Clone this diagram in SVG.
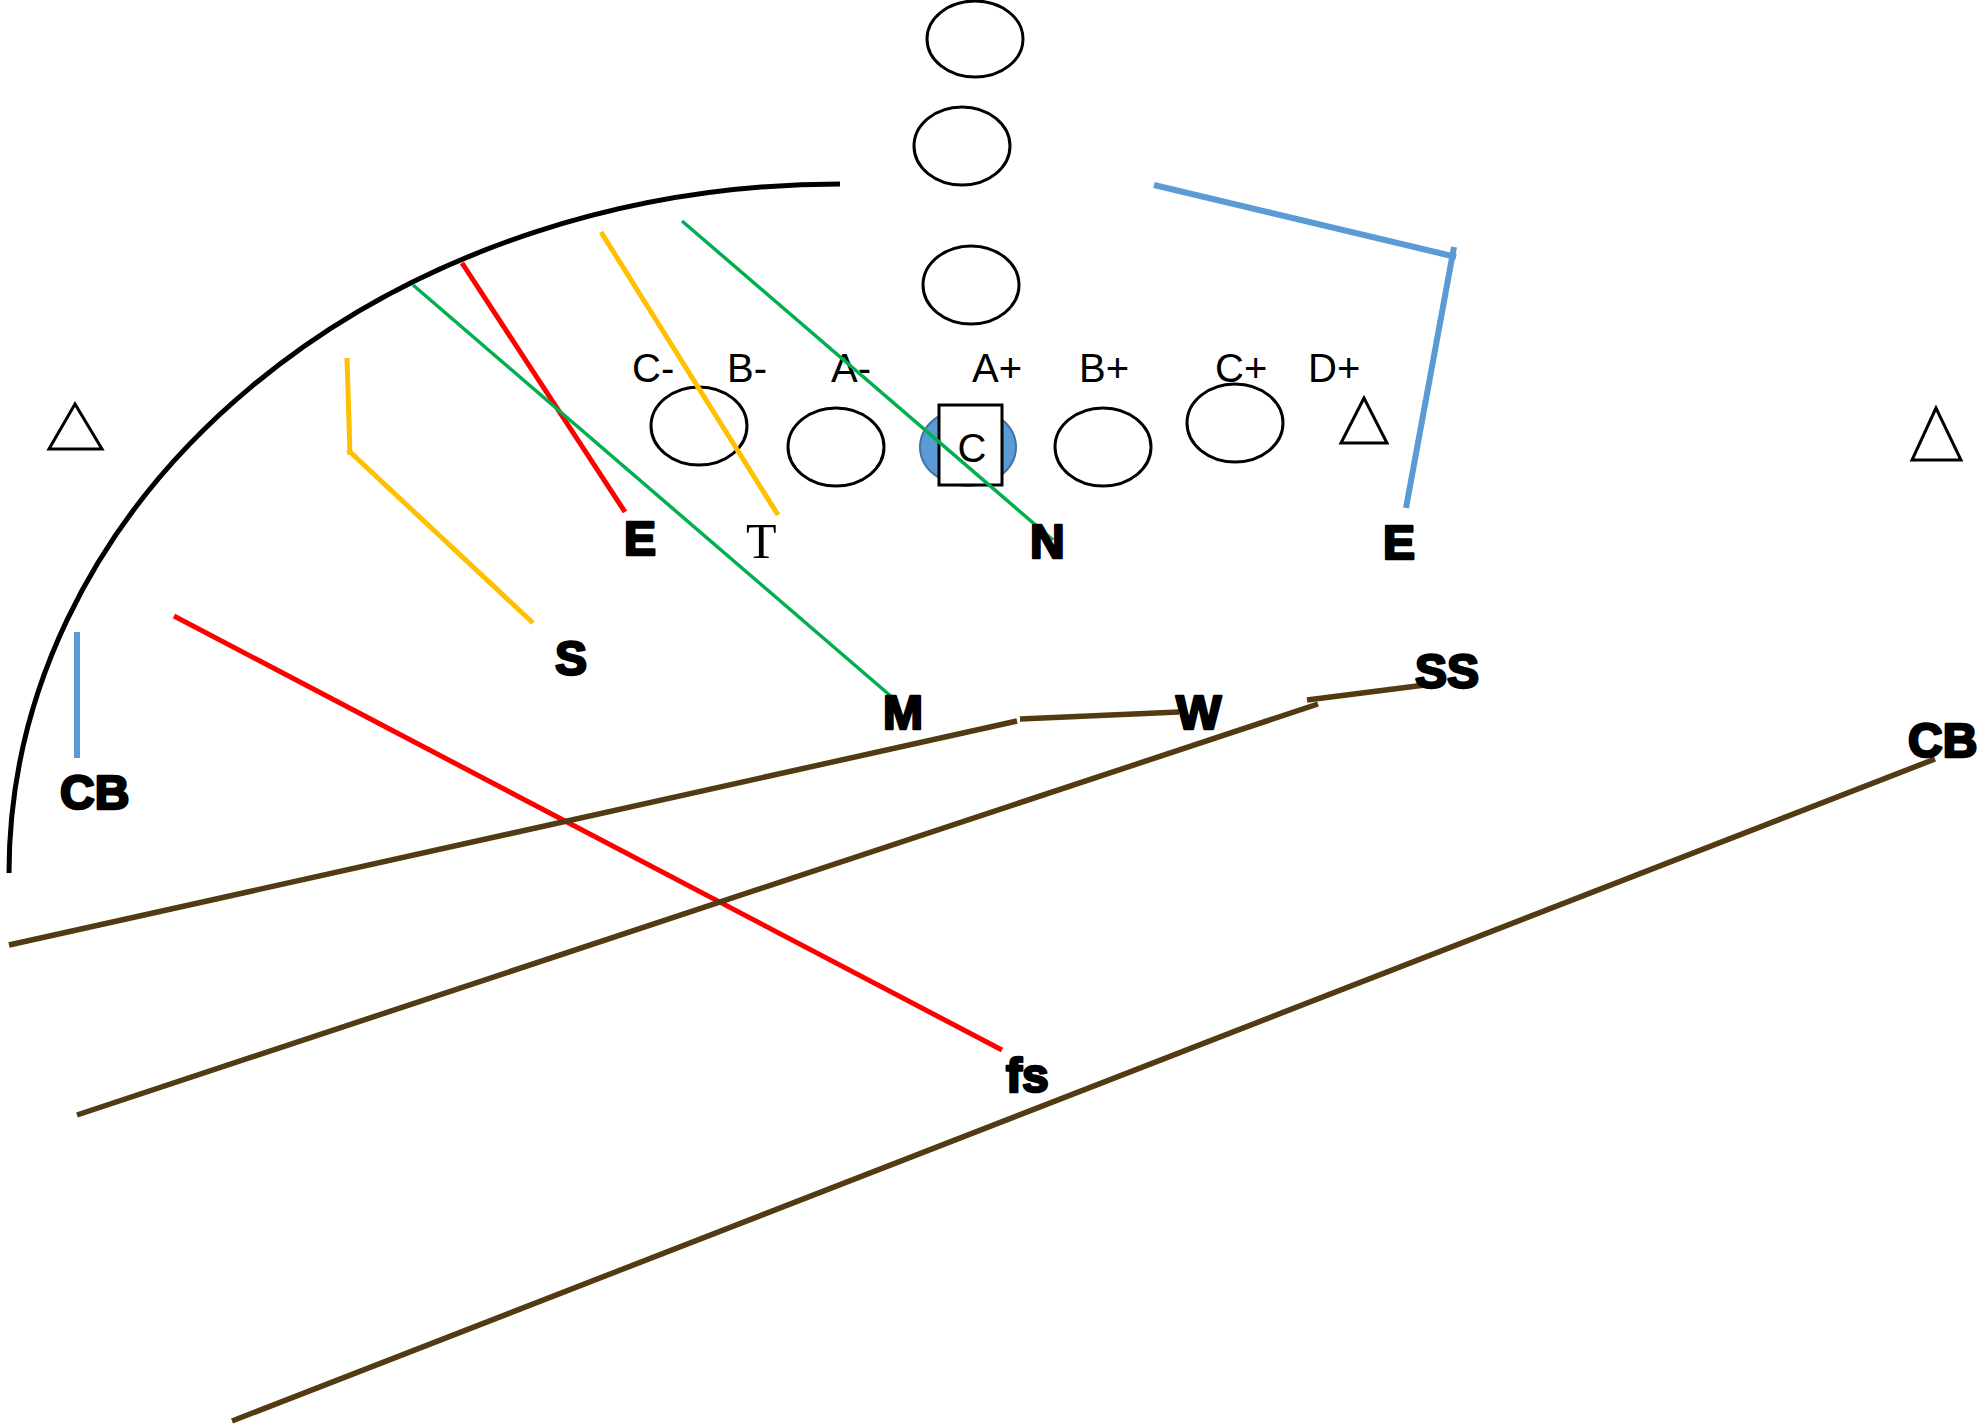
<svg xmlns="http://www.w3.org/2000/svg" width="1986" height="1428" viewBox="0 0 1986 1428">
<style>
.ov{fill:#fff;stroke:#000;stroke-width:3}
.tri{fill:#fff;stroke:#000;stroke-width:3}
.gap{font-family:"Liberation Sans",Arial,sans-serif;font-size:40px;fill:#000}
.pl{font-family:"Liberation Sans",Arial,sans-serif;font-weight:bold;font-size:48px;fill:#000;stroke:#000;stroke-width:2.6;stroke-linejoin:round}
.red{stroke:#FF0000;stroke-width:5;fill:none}
.grn{stroke:#00B050;stroke-width:3.5;fill:none}
.org{stroke:#FFC000;stroke-width:5;fill:none}
.blu{stroke:#5B9BD5;stroke-width:6;fill:none}
.brn{stroke:#523A12;stroke-width:5.5;fill:none}
</style>
<rect width="1986" height="1428" fill="#fff"/>
<g id="offense">
<g id="back1"><ellipse class="ov" cx="975" cy="39" rx="48" ry="38"/></g>
<g id="back2"><ellipse class="ov" cx="962" cy="146" rx="48" ry="39"/></g>
<g id="back3"><ellipse class="ov" cx="971" cy="285" rx="48" ry="39"/></g>
<g id="lineC-"><ellipse class="ov" cx="699" cy="426" rx="48" ry="39"/></g>
<g id="lineA-"><ellipse class="ov" cx="836" cy="447" rx="48" ry="39"/></g>
<g id="center">
<ellipse cx="968" cy="447" rx="48" ry="39" fill="#5B9BD5" stroke="#41719C" stroke-width="2"/>
<rect x="939" y="405" width="63" height="80" fill="#fff" stroke="#000" stroke-width="3"/>
<text x="972" y="462" class="gap" font-size="35" text-anchor="middle">C</text>
</g>
<g id="lineB+"><ellipse class="ov" cx="1103" cy="447" rx="48" ry="39"/></g>
<g id="lineC+"><ellipse class="ov" cx="1235" cy="423" rx="48" ry="39"/></g>
<g id="triLeft"><polygon class="tri" points="75,404 49,449 102,449"/></g>
<g id="triMid"><polygon class="tri" points="1364,398 1341,443 1387,443"/></g>
<g id="triRight"><polygon class="tri" points="1936,408 1912,460 1961,460"/></g>
</g>
<g id="gaps">
<text class="gap" x="632" y="382">C-</text>
<text class="gap" x="727" y="382">B-</text>
<text class="gap" x="831" y="382">A-</text>
<text class="gap" x="972" y="382">A+</text>
<text class="gap" x="1079" y="382">B+</text>
<text class="gap" x="1215" y="382">C+</text>
<text class="gap" x="1308" y="382">D+</text>
</g>
<g id="connectors">
<path d="M840 184 A831 689 0 0 0 9 873" fill="none" stroke="#000" stroke-width="5"/>
<line class="red" x1="462" y1="263" x2="625" y2="512"/>
<line class="red" x1="174" y1="616" x2="1002" y2="1050"/>
<line class="grn" x1="413" y1="285" x2="893" y2="698"/>
<line class="grn" x1="682" y1="221" x2="1053" y2="540"/>
<line class="org" x1="601" y1="232" x2="778" y2="515"/>
<line class="org" x1="347" y1="358" x2="350" y2="455"/>
<line class="org" x1="348" y1="450" x2="533" y2="623"/>
<line class="blu" x1="77" y1="632" x2="77" y2="758"/>
<line class="blu" x1="1154" y1="185" x2="1456" y2="257"/>
<line class="blu" x1="1454" y1="247" x2="1406" y2="508"/>
<line class="brn" x1="1017" y1="721" x2="9" y2="945"/>
<line class="brn" x1="1020" y1="719" x2="1179" y2="712"/>
<line class="brn" x1="1307" y1="700" x2="1425" y2="685"/>
<line class="brn" x1="1318" y1="704" x2="77" y2="1115"/>
<line class="brn" x1="1935" y1="759" x2="232" y2="1421"/>
</g>
<g id="defense">
<g id="E-left"><text class="pl" x="624" y="555">E</text></g>
<g id="T"><text x="746" y="558" font-family="'Liberation Serif','Times New Roman',serif" font-size="50" fill="#000">T</text></g>
<g id="N"><text class="pl" x="1030" y="558">N</text></g>
<g id="E-right"><text class="pl" x="1383" y="559">E</text></g>
<g id="S"><text class="pl" x="555" y="675">S</text></g>
<g id="M"><text class="pl" x="883" y="729">M</text></g>
<g id="W"><text class="pl" x="1176" y="729">W</text></g>
<g id="SS"><text class="pl" x="1415" y="688">SS</text></g>
<g id="CB-left"><text class="pl" x="60" y="809">CB</text></g>
<g id="CB-right"><text class="pl" x="1908" y="757">CB</text></g>
<g id="fs"><text class="pl" x="1006" y="1092">fs</text></g>
</g>
</svg>
